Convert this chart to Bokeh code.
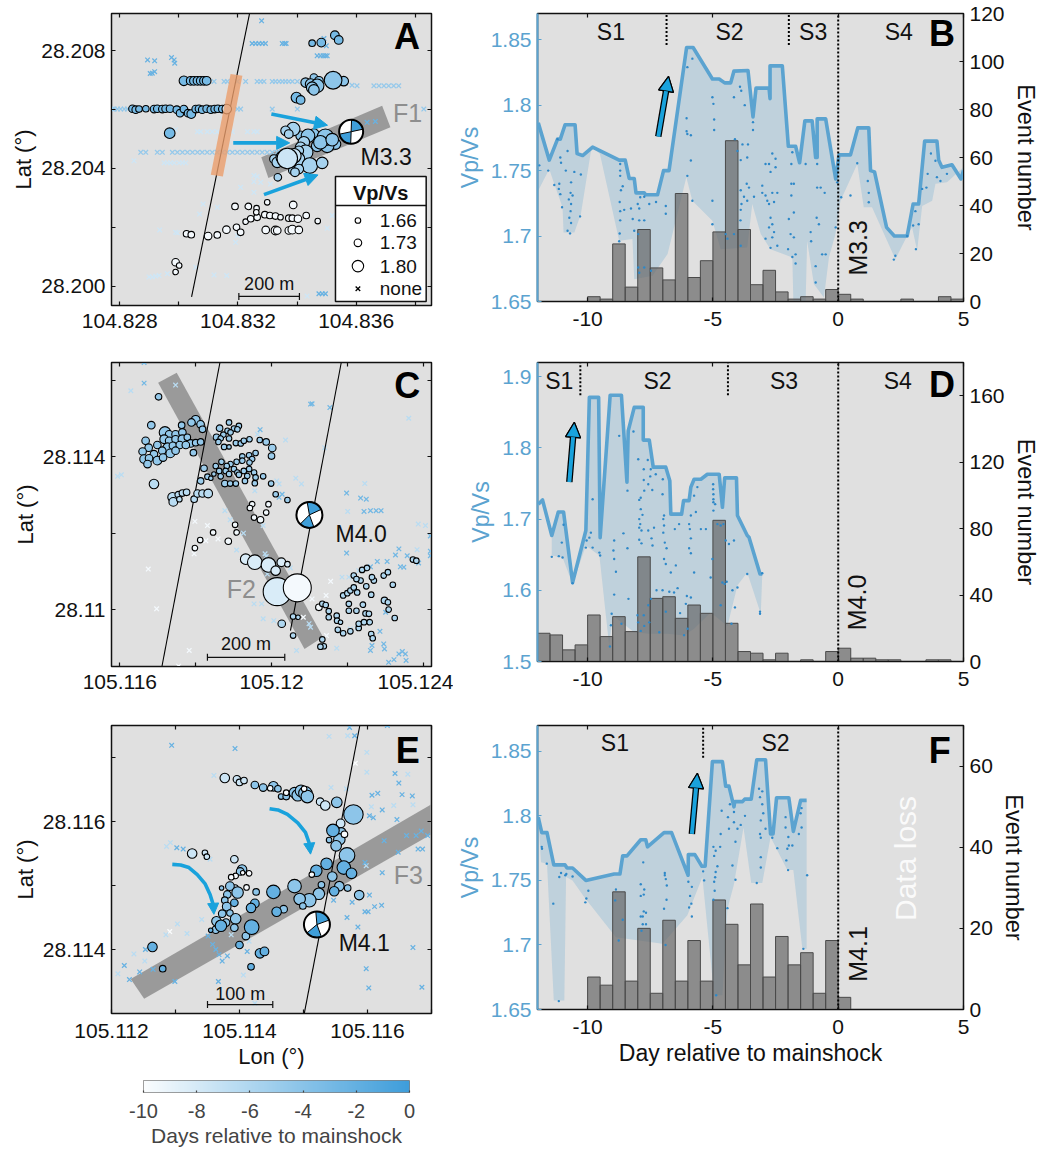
import numpy as np
from bokeh.embed import file_html
from bokeh.resources import INLINE
from bokeh.plotting import figure
from bokeh.layouts import column, row
from bokeh.core.properties import value
from bokeh.models import (Range1d, LinearAxis, FixedTicker, LinearColorMapper, Arrow, NormalHead,
                          ColumnDataSource, CustomJSTickFormatter)

FONT = "Liberation Sans"
BLUE = "#5BA3D0"
ARROW = "#19A2DC"
BAND = "#9A9A9A"
BG = "#E0E0E0"

# ---------------- Panel A (lon: 0.001 deg east of 104.828, lat: 0.001 deg north of 28.200)
a_c1_day = -3.0
a_c1_lon = [6.51,6.82,7.28,7.41,2.17,2.40,2.51,2.63,2.74,2.85,2.94,.43,.54,.65,.88,1.16,1.27,1.44,1.55,1.70,1.93,2.04,2.17,2.31,2.42,2.57,2.68,2.79,2.94,3.08,3.21,3.32,3.47,1.69,5.98,6.12]
a_c1_lat = [8.26,8.28,8.53,8.37,6.98,6.98,6.98,6.98,6.98,6.98,6.98,6.03,6.0,6.02,6.03,6.02,6.03,6.02,6.03,6.03,6.0,5.88,6.02,5.88,5.85,6.02,6.03,6.0,6.03,6.0,6.02,6.03,6.02,5.20,6.41,6.33]
a_c1_vp = [1.695,1.75,1.75,1.75,1.765,1.75,1.75,1.75,1.75,1.75,1.75,1.73,1.73,1.695,1.695,1.73,1.73,1.73,1.73,1.73,1.73,1.73,1.73,1.73,1.75,1.73,1.73,1.73,1.73,1.73,1.73,1.73,1.73,1.785,1.785,1.75]
a_c2_day = -4.2
a_c2_lon = [7.58,6.29,6.57,6.74,6.46,6.68,6.51,6.57,7.22,6.57,7.3,6.68,7.02,6.12,6.96,6.79,7.19,6.37]
a_c2_lat = [6.97,6.92,7.09,6.98,6.87,6.81,6.75,6.67,7.0,5.17,4.83,4.77,4.77,5.11,5.06,4.89,4.98,5.11]
a_c2_vp = [1.765,1.765,1.73,1.75,1.785,1.815,1.80,1.785,1.845,1.785,1.785,1.80,1.815,1.765,1.838,1.815,1.808,1.815]
a_c3_day = -5.5
a_c3_lon = [5.87,5.61,5.72,6.23,6.12,6.2,6.29,5.22,5.33,5.5,6.06,6.03,6.43,6.85,6.06,5.84,5.93,5.35]
a_c3_lat = [5.34,5.28,5.17,4.89,4.72,4.52,4.55,4.32,4.21,4.38,4.6,4.32,4.1,4.19,3.98,3.93,3.87,3.7]
a_c3_vp = [1.815,1.765,1.75,1.80,1.785,1.785,1.823,1.75,1.785,1.808,1.765,1.815,1.83,1.80,1.765,1.73,1.75,1.73]
a_c4_day = -7.5
a_c4_lon = [5.89,5.67,3.62]
a_c4_lat = [4.43,4.34,6.02]
a_c4_vp = [1.823,1.865,1.765]
a_c5_day = -9.6
a_c5_lon = [3.9,4.35,4.63,4.99,5.87,2.26,2.42,2.99,3.3,3.61,3.95,4.09,4.26,4.43,4.65,4.91,5.08,5.27,5.44,5.72,5.84,6.03,6.31,6.7,4.94,5.27,5.33,5.72,5.84,6.06,4.62,1.89,2.01,1.89]
a_c5_lat = [2.71,2.71,2.65,2.85,2.76,1.78,1.75,1.7,1.74,1.92,2.0,1.83,2.19,2.29,2.34,2.43,2.4,2.38,2.34,2.31,2.31,2.29,2.4,2.21,1.91,1.89,1.89,1.89,1.92,1.91,2.51,.81,.7,.48]
a_c5_vp = [1.695,1.695,1.66,1.66,1.73,1.695,1.695,1.73,1.695,1.73,1.695,1.695,1.66,1.695,1.695,1.695,1.695,1.695,1.66,1.695,1.695,1.73,1.695,1.66,1.73,1.75,1.73,1.73,1.75,1.73,1.66,1.73,1.66,1.66]
a_x1_day = -2.2
a_x1_lon = [4.48,4.6,4.71,4.82,4.93,5.5,5.58,5.63,4.8,6.68,6.79,6.88,6.96,7.02,6.99,6.91,.94,1.18,1.75,1.84,1.86,1.03,1.1,1.18,8.37,8.65,6.74,6.85,6.96]
a_x1_lat = [8.25,8.25,8.25,8.25,8.25,8.25,8.25,8.25,9.02,7.83,7.83,7.83,7.83,7.83,8.17,8.42,7.69,7.66,7.77,7.69,7.58,7.23,7.24,7.29,5.57,5.6,-.26,-.26,-.26]
a_x2_day = -4.6
a_x2_lon = [3.19,3.53,3.64,3.98,4.26,4.65,4.77,4.88,5.16,5.27,5.39,5.5,5.61,5.72,5.84,6.01,7.64,7.86,8.03,8.6,8.77,8.94,9.1,9.27,9.44,-.25,-.19,-.08,.03,.15,.26,.6,3.98,4.09,5.16,6.01,10.29,.71,.88,1.27,1.44,1.78,1.95,2.12,2.29,2.46,2.63,2.79,2.96,3.13,3.3,3.47,3.64,3.81,3.98,4.15,4.32,4.48,4.65,4.82,4.99,5.16,5.33,5.44,5.61]
a_x2_lat = [6.96,6.96,6.96,6.96,6.96,6.96,6.96,6.96,6.96,6.96,6.96,6.96,6.96,6.96,6.96,6.96,6.9,6.83,6.81,6.81,6.81,6.81,6.81,6.81,6.81,6.02,6.02,6.02,6.02,6.02,6.02,6.02,6.02,6.02,6.02,6.02,6.02,4.55,4.55,4.55,4.55,4.55,4.55,4.55,4.55,4.55,4.55,4.55,4.55,4.55,4.55,4.55,4.55,4.55,4.55,4.55,4.55,4.55,4.55,4.55,4.55,4.55,4.55,4.55,4.55]
a_x3_day = -7.6
a_x3_lon = [2.63,2.74,2.96,3.13,3.3,3.64,3.81,4.32,4.54,4.65,1.89,1.5,1.61,1.72,1.84,2.01,2.12,2.23,.48,4.54,4.65,4.54,4.77,5.1,4.09,2.82,2.7,3.3,4.54,3.98,3.92,1.35,1.89,1.95,2.57,3.19,3.62,.99,1.1,1.22,1.33,1.61,6.34,7.19,7.02]
a_x3_lat = [5.25,5.25,5.25,5.25,5.25,5.25,5.25,5.25,5.25,5.25,5.32,4.19,4.19,4.19,4.19,4.19,4.19,4.19,4.26,3.76,3.73,3.55,3.53,3.47,3.36,2.79,2.45,2.68,3.19,1.72,1.49,1.91,1.83,1.81,.64,.38,.36,.31,.31,.34,.36,.42,-.34,2.4,1.97]
a_fault_lon = [4.39,2.43]
a_fault_lat = [9.26,-.37]
a_band_lon = [4.79,8.88,9.16,5.03]
a_band_lat = [4.38,6.13,5.40,3.68]
a_orange_lon = [3.75,4.15,3.49,3.08]
a_orange_lat = [7.21,7.15,3.73,3.79]
legend_vp = [1.66,1.73,1.80]
legend_labels = ["1.66","1.73","1.80","none"]

# ---------------- Panel C (lon: 0.001 deg east of 105.116, lat: 0.001 deg north of 28.110)
c_c1_day = -4.5
c_c1_lon = [1.02,.83,2.0,1.89,2.13,2.18,1.19,1.63,1.3,1.47,1.65,.68,1.17,.99,.76,.6,1.3,1.47,1.65,1.78,1.87,2.0,2.13,1.26,1.4,1.58,1.74,.9,1.12,1.33,1.47,1.94,.64,.77,.99,1.14,.73]
c_c1_lat = [5.57,4.83,4.97,4.9,4.85,4.72,4.64,4.83,4.59,4.59,4.64,4.42,4.46,4.31,4.24,4.14,4.42,4.46,4.46,4.51,4.35,4.37,4.39,4.24,4.29,4.31,4.31,4.07,4.16,4.09,4.16,4.11,3.94,3.96,3.9,3.98,3.81]
c_c1_vp = [1.695,1.73,1.75,1.73,1.73,1.695,1.80,1.695,1.73,1.73,1.73,1.73,1.75,1.73,1.73,1.73,1.73,1.73,1.75,1.695,1.73,1.695,1.695,1.765,1.73,1.73,1.73,1.73,1.73,1.75,1.73,1.695,1.75,1.73,1.75,1.73,1.73]
c_c2_day = -6.5
c_c2_lon = [.9,1.39,1.54,1.65,1.76,1.41,1.57,1.96,2.05,2.18,2.33]
c_c2_lat = [3.29,2.94,3.01,3.05,3.07,2.82,2.89,2.89,3.04,3.04,3.04]
c_c2_vp = [1.765,1.765,1.695,1.695,1.695,1.75,1.66,1.695,1.73,1.73,1.75]
c_c3_day = -5.0
c_c3_lon = [2.63,2.88,3.14,3.01,2.84,2.92,2.73,2.55,2.66,2.88,3.1,2.6,2.75,2.88,3.06,3.19,3.27,3.42,3.69,3.86,4.02,4.0,3.58,3.41,3.23,3.49,3.42,3.23,3.08,2.92,2.68,2.82,2.53,2.22,2.62,2.79,3.01,3.1,3.27,3.41,3.54,2.31,2.48,2.66,2.88,3.14,3.36,3.58,3.78,2.4,2.13,2.77,2.91,3.06,3.3,3.56,3.99,4.11,4.42]
c_c3_lat = [4.75,4.9,4.81,4.74,4.68,4.64,4.58,4.51,4.48,4.48,4.72,4.39,4.26,4.26,4.36,4.35,4.42,4.46,4.44,4.39,4.23,4.02,4.1,4.04,4.01,3.94,3.85,3.9,3.87,3.81,3.87,3.76,3.76,3.7,3.63,3.63,3.68,3.59,3.63,3.68,3.59,3.48,3.55,3.49,3.55,3.53,3.5,3.46,3.49,3.44,3.37,3.3,3.3,3.3,3.37,3.31,3.3,3.02,2.87]
c_c3_vp = [1.695,1.66,1.66,1.66,1.66,1.66,1.66,1.695,1.66,1.66,1.66,1.66,1.66,1.61,1.66,1.66,1.66,1.66,1.66,1.695,1.73,1.695,1.66,1.66,1.66,1.66,1.66,1.66,1.66,1.66,1.66,1.66,1.66,1.695,1.66,1.66,1.66,1.66,1.66,1.66,1.66,1.66,1.61,1.66,1.66,1.66,1.66,1.66,1.66,1.61,1.695,1.695,1.66,1.66,1.66,1.66,1.66,1.66,1.66]
c_c4_day = -9.5
c_c4_lon = [3.92,3.49,3.43,3.86,3.54,3.71,3.04,3.08,2.46,2.12,2.86,1.98,5.25]
c_c4_lat = [2.76,2.76,2.66,2.54,2.41,2.35,2.22,2.02,2.02,1.82,1.79,1.61,.06]
c_c4_vp = [1.66,1.66,1.66,1.66,1.66,1.695,1.66,1.66,1.66,1.66,1.695,1.66,1.695]
c_c5_day = -8.2
c_c5_lon = [3.32,3.56,3.92,4.11,4.26,4.42,4.15]
c_c5_lat = [1.32,1.24,1.17,1.02,1.24,1.19,.47]
c_c5_vp = [1.785,1.823,1.823,1.765,1.75,1.66,1.92]
c_c6_day = -9.6
c_c6_lon = [4.68]
c_c6_lat = [.57]
c_c6_vp = [1.92]
c_c7_day = -6.0
c_c7_lon = [4.27,4.57,4.7,4.57,5.34,5.43,5.51,5.51,5.72,5.73,5.82,5.75,5.89,6.08,6.3,6.3,6.48,6.57,6.44,6.59,6.04,6.04,6.24,6.41,6.63,5.89,6.0,6.08,6.26,6.17,6.35,6.5,6.7,6.65,6.17,6.24,6.39,6.52,6.96,7.07,7.2,6.98,7.07,7.09,7.25,6.63,6.67,5.34,5.38,5.29,7.73,7.82]
c_c7_lat = [-.37,-.18,-.2,-.68,.15,.12,-.04,-.2,-.16,-.29,-.33,-.53,-.62,-.57,-.48,-.37,-.1,-.11,-.33,-.33,.15,-.03,-.03,.13,.39,.37,.43,.5,.45,.58,.76,.61,.76,.85,.89,.8,1.04,1.09,.89,.98,.65,.24,.19,0,-.22,-.64,-.75,-.78,-.96,-.97,1.31,1.28]
c_c7_vp = [1.73,1.66,1.61,1.66,1.66,1.66,1.66,1.66,1.66,1.66,1.61,1.66,1.66,1.66,1.66,1.66,1.66,1.66,1.66,1.66,1.66,1.66,1.66,1.66,1.66,1.66,1.66,1.66,1.66,1.66,1.66,1.66,1.66,1.66,1.66,1.66,1.66,1.66,1.66,1.66,1.66,1.695,1.66,1.66,1.66,1.66,1.66,1.66,1.66,1.66,1.66,1.66]
c_x1_day = -2.8
c_x1_lon = [.64,5.03,5.07,5.54,3.7,4.28,4.2,6.35,6.5,6.44,6.61,6.76,6.89,5.98,6.61,6.79,7.05,7.27,7.36,7.4,7.49,7.58,7.88,8.19,8.19,7.01,6.86,6.61,6.65,6.96,6.98,7.45,7.53,7.36,7.23,7.09,7.55,8.19,.64,5.98]
c_x1_lat = [6.47,5.38,5.39,5.29,4.71,3.02,2.94,2.92,2.89,2.57,2.59,2.59,2.59,3.05,1.12,1.26,1.26,1.43,1.59,1.12,1.11,1.41,1.22,1.53,1.41,-.07,-.57,-1.07,-.94,-.9,-1.03,-1.1,-1.16,-1.16,-1.31,-1.38,-1.33,1.93,5.93,1.48]
c_x2_day = -6.5
c_x2_lon = [.29,1.47,-.06,.04,3.63,4.37,5.4,4.14,4.2,4.64,4.79,3.56,6.46,6.01,7.62,7.87,8.06,2.77,2.91,3.26,3.78,3.83,3.86,3.08,3.54,3.74,3.78,4.06,3.89,4.5,4.99,5.03,5.86,6.04,6.3,7.84,6.26,6.08,5.72,4.66]
c_x2_lat = [5.73,5.88,3.49,3.53,4.59,4.44,4.24,3.37,3.29,3.44,3.29,3.11,3.3,2.57,5.01,2.24,2.2,2.59,2.35,2.0,2.2,1.46,1.39,1.56,.15,.15,-.24,-.29,.93,1.09,-.37,-.46,.85,.85,1.02,1.57,-.48,-.51,-1.01,-1.07]
c_x3_day = -9.6
c_x3_lon = [1.98,2.31,2.27,2.59,1.96,.75,.97,1.83,1.55,5.56,5.44,5.07,4.84,5.45]
c_x3_lat = [2.31,2.2,1.8,1.85,1.46,1.06,.02,-1.07,-1.48,.74,.37,.28,-.2,-.68]
c_fault1_lon = [2.64,1.11]
c_fault1_lat = [6.47,-1.49]
c_fault2_lon = [5.84,4.5]
c_fault2_lat = [6.47,-.55]
c_band_lon = [1.01,1.5,5.36,4.87]
c_band_lat = [5.94,6.2,-.72,-1.03]

# ---------------- Panel E (lon: 0.001 deg east of 105.112, lat: 0.001 deg north of 28.114)
e_c1_day = -7.5
e_c1_lon = [1.77,1.96,2.0,2.07,3.26,3.34,3.58,1.26,1.46,1.49,1.93,1.92]
e_c1_lat = [2.68,2.66,2.61,2.64,2.31,2.25,1.97,1.5,1.51,1.45,.96,1.41]
e_c1_vp = [1.765,1.73,1.695,1.695,1.73,1.765,1.75,1.765,1.66,1.66,1.695,1.73]
e_c2_day = -4.2
e_c2_lon = [2.24,2.37,2.53,2.6,2.65,2.73,2.86,2.91,2.96,3.03,3.06,3.52,3.78,3.59,3.56,3.4,3.51,3.68,3.45,3.28,3.56,3.69,3.87,3.24,3.09,2.94,2.99,2.86,2.69,2.1,2.04,2.01,1.85,1.72,2.26,1.97,1.81,1.77,1.8,1.73,1.85,1.64,1.94,1.63,1.79,1.92]
e_c2_lat = [2.57,2.53,2.55,2.51,2.39,2.39,2.45,2.41,2.48,2.44,2.39,2.3,2.11,1.83,1.72,1.71,1.62,1.47,1.14,1.01,.99,.96,.85,.87,.77,.79,.68,.99,.63,.21,1.25,1.22,.99,.96,.9,.89,.86,.77,.67,.56,.57,.44,.48,.31,.42,.34]
e_c2_vp = [1.73,1.73,1.765,1.695,1.66,1.695,1.785,1.80,1.80,1.815,1.808,1.785,1.858,1.765,1.80,1.66,1.785,1.83,1.765,1.695,1.765,1.695,1.765,1.80,1.815,1.80,1.695,1.815,1.73,1.73,1.765,1.73,1.75,1.61,1.695,1.80,1.73,1.695,1.75,1.73,1.695,1.765,1.785,1.73,1.73,1.73]
e_c3_day = -2.0
e_c3_lon = [3.46,3.36,3.63,3.75,3.2,3.48,2.53,2.58,2.19,2.0,2.32,2.39,2.18,.64,.8,2.24,2.18,1.92,1.71,1.55]
e_c3_lat = [1.86,1.34,1.28,1.19,1.23,.91,.9,.59,.35,.07,-.06,-.03,-.27,.04,-.3,.72,.65,.73,.37,.3]
e_c3_vp = [1.808,1.80,1.815,1.785,1.80,1.765,1.815,1.765,1.823,1.73,1.765,1.75,1.695,1.765,1.695,1.75,1.765,1.73,1.80,1.61]
e_c4_day = -9.8
e_c4_lon = [2.48,2.73,3.01,3.64,3.13,2.05,1.94,1.87,2.11,2.15]
e_c4_lat = [2.52,2.45,2.51,1.8,1.17,1.2,1.15,1.13,.97,1.19]
e_c4_vp = [1.66,1.66,1.66,1.695,1.66,1.61,1.66,1.66,1.66,1.66]
e_x1_day = -2.2
e_x1_lon = [.94,1.93,1.02,1.12,1.51,1.58,1.63,1.68,1.73,1.81,2.12,.53,.44,.65,.99,1.67,3.8,3.72,4.31,4.43,4.49,4.54,4.7,4.16,4.07,4.23,4.03,4.09,4.46,4.26,4.61,4.76,4.84,4.94,4.48,4.79,4.86,4.23,3.96,4.03,3.76,3.47,3.96,4.01,4.11,4.22,3.68,3.85,3.98,4.02,4.71,4.85,.2,.28]
e_x1_lat = [3.19,3.14,1.59,1.57,.21,.08,0,-.08,-.18,-.1,-.03,0,-.35,-.31,-.5,-.5,3.34,3.47,3.5,2.75,2.6,2.42,2.4,2.44,2.41,2.18,2.09,2.06,2.03,1.7,1.78,1.78,1.85,1.78,1.52,1.57,1.57,1.2,1.36,.85,.74,.77,.59,.59,.67,.69,.5,.35,-.3,-.6,.03,-.59,-.25,-.47]
e_x2_day = -6.5
e_x2_lon = [1.6,.86,.92,1.54,1.03,.85,1.18,1.41,1.87,2.15,2.06,.35,.52,.1,2.24,3.69,3.4,3.99,3.43,3.67,3.99,4.63,4.41,4.71,4.06,3.98]
e_x2_lat = [2.72,1.61,1.67,1.41,.4,.23,.25,.47,.23,.13,-.4,-.07,-.18,-.38,-.84,3.34,3.33,3.08,2.53,2.51,2.77,2.74,2.25,2.26,2.23,1.31]
e_x3_day = -10.0
e_x3_lon = [.91,3.81]
e_x3_lat = [.28,2.91]
e_fault_lon = [3.88,3.01]
e_fault_lat = [3.5,-1.01]
e_band_lon = [.30,5.0,5.0,.51]
e_band_lat = [-.46,2.27,1.8,-.77]
e_curve1_lon = [.95,1.08,1.21,1.34,1.46,1.54,1.59,1.6]
e_curve1_lat = [1.33,1.32,1.28,1.17,1.03,.86,.70,.55]
e_curve2_lon = [2.47,2.6,2.75,2.91,3.03,3.09,3.11]
e_curve2_lat = [2.2,2.18,2.11,1.98,1.83,1.66,1.49]

# ---------------- Panel B
b_day = [-11.97,-11.53,-11.2,-11.09,-10.9,-10.5,-10.42,-10.2,-9.8,-8.74,-8.5,-8.34,-8.14,-8.07,-7.74,-7.68,-7.21,-6.97,-6.75,-6.05,-5.79,-5.02,-4.75,-4.53,-4.29,-4.16,-3.6,-3.4,-3.28,-2.76,-2.72,-2.72,-2.23,-1.99,-1.7,-1.54,-1.33,-1.04,-.9,-.84,-.84,-.5,-.1,.03,.49,.78,1.22,1.29,1.45,1.93,2.24,2.75,2.99,3.21,3.45,3.94,4.01,4.14,4.54,4.9,5.0]
b_vp = [1.7865,1.758,1.774,1.774,1.785,1.785,1.763,1.7615,1.768,1.758,1.758,1.744,1.744,1.733,1.733,1.7315,1.7315,1.75,1.75,1.844,1.844,1.82,1.82,1.817,1.817,1.826,1.8265,1.791,1.813,1.813,1.805,1.83,1.83,1.7686,1.7686,1.756,1.788,1.788,1.76,1.76,1.7895,1.7895,1.7436,1.762,1.762,1.7826,1.7826,1.75,1.749,1.7066,1.7,1.7,1.7245,1.7245,1.7725,1.7725,1.758,1.7525,1.7545,1.7436,1.75]
b_low_day = [-11.97,-11.53,-11.33,-11,-10.96,-10.53,-10.27,-9.84,-9.51,-8.74,-8.21,-8.14,-7.41,-6.81,-6.06,-5.82,-5.02,-4.69,-3.63,-3.43,-3.09,-2.7,-1.83,-1.79,-1.3,-1.24,-.97,-.57,-.37,-.11,.09,.76,1.02,1.35,2.28,2.75,2.95,3.15,3.35,3.75,3.88,4.34,5.0]
b_low_vp = [1.7347,1.7513,1.7398,1.722,1.7028,1.7028,1.7168,1.768,1.7628,1.6964,1.6977,1.667,1.6696,1.6862,1.7449,1.727,1.7117,1.69,1.6913,1.7245,1.7015,1.69,1.6837,1.65,1.65,1.6964,1.6633,1.653,1.6837,1.7015,1.727,1.755,1.722,1.722,1.6824,1.7,1.7066,1.689,1.723,1.727,1.74,1.741,1.7526]
b_dot_day = [-11.2,-11.09,-11.06,-10.8,-11.13,-11.15,-11.09,-10.87,-10.53,-10.66,-10.68,-10.6,-10.75,-10.66,-10.68,-10.73,-10.66,-10.8,-10.7,-10.3,-11.02,-10.27,-11.33,-11.57,-11.93,-8.7,-8.7,-8.7,-8.67,-8.6,-8.72,-8.7,-8.54,-8.7,-8.72,-8.74,-8.27,-8,-7.94,-8.2,-7.94,-8.14,-7.98,-7.98,-7.74,-7.94,-7.47,-7.74,-7.54,-7.27,-6.88,-6.88,-7.74,-7.9,-5.82,-6.02,-6.05,-6.05,-6.02,-5.88,-5.88,-6.02,-5.82,-5.02,-4.98,-4.95,-4.95,-5.02,-5.02,-4.16,-3.92,-3.87,-3.73,-3.4,-3.4,-4.12,-3.82,-3.6,-4.02,-3.89,-3.63,-3.65,-3.89,-3.56,-3.76,-3.86,-3.63,-3.36,-3.89,-4.49,-4.42,-4.16,-3.89,-3.9,-2.63,-2.9,-2.76,-2.5,-2.7,-2.5,-3.03,-3.03,-2.9,-2.83,-2.63,-2.43,-2.76,-2.56,-2.7,-2.63,-2.76,-2.56,-2.63,-2.9,-2.7,-2.43,-1.83,-1.87,-1.3,-1.87,-1.77,-1.87,-1.77,-1.97,-1.9,-1.77,-2,-1.7,-1.83,-1.7,-1.1,-1.08,-.86,-.77,-.9,-.9,-.64,-.5,-.84,-.84,-.7,-.54,-.1,-.04,.12,.49,.76,1.18,1.22,1.22,2.28,2.22,2.75,2.99,3.21,3.08,3.1,3.57,3.7,3.88,3.94,4.08,4.34,3.35,3.52]
b_dot_vp = [1.774,1.76,1.756,1.765,1.74,1.736,1.732,1.75,1.749,1.741,1.733,1.731,1.728,1.7245,1.719,1.714,1.71,1.704,1.702,1.715,1.722,1.747,1.739,1.75,1.754,1.755,1.75,1.746,1.735,1.738,1.726,1.719,1.72,1.712,1.702,1.696,1.721,1.7245,1.721,1.713,1.712,1.704,1.7015,1.676,1.676,1.672,1.6735,1.73,1.7245,1.726,1.723,1.717,1.712,1.7296,1.8355,1.829,1.79,1.78,1.778,1.777,1.7577,1.746,1.727,1.806,1.801,1.789,1.781,1.727,1.709,1.806,1.814,1.811,1.8,1.787,1.781,1.774,1.77,1.77,1.765,1.758,1.76,1.74,1.735,1.737,1.73,1.7245,1.727,1.73,1.72,1.7015,1.698,1.7015,1.6926,1.712,1.763,1.755,1.755,1.759,1.749,1.7525,1.7385,1.733,1.731,1.727,1.733,1.733,1.7245,1.726,1.714,1.709,1.7066,1.703,1.699,1.698,1.691,1.6926,1.764,1.755,1.755,1.74,1.74,1.731,1.718,1.713,1.7015,1.699,1.69,1.686,1.684,1.679,1.703,1.696,1.714,1.709,1.677,1.6645,1.686,1.686,1.755,1.737,1.737,1.733,1.7066,1.741,1.7296,1.731,1.7556,1.742,1.733,1.7258,1.685,1.682,1.7,1.708,1.709,1.719,1.69,1.7475,1.763,1.7575,1.745,1.742,1.7475,1.736,1.737]
bin_start = list(np.arange(-12, 5, 0.5))
b_counts = [0,0,0,0, 2,1,24,6,30,14,9,45,10,17,29,67,30,7,13,4,1,2,1,5, 3,1,0,0,0,1,0,0,2,1]

# ---------------- Panel D
d_day = [-11.97,-11.8,-11.43,-11.17,-10.96,-10.6,-10.07,-9.93,-9.56,-9.5,-9.1,-8.65,-8.43,-8.38,-8.14,-7.78,-7.78,-7.54,-7.38,-6.88,-6.72,-6.68,-6.25,-6.17,-5.95,-5.88,-5.75,-5.48,-5.22,-4.75,-4.62,-4.53,-4.06,-4.02,-3.63,-3.56,-3.12,-3.03]
d_vp = [1.721,1.727,1.677,1.71,1.71,1.611,1.684,1.871,1.871,1.674,1.874,1.874,1.752,1.824,1.857,1.857,1.811,1.811,1.773,1.773,1.754,1.707,1.707,1.726,1.726,1.745,1.756,1.756,1.763,1.763,1.7166,1.758,1.758,1.705,1.677,1.6745,1.623,1.623]
d_low_day = [-11.97,-11.8,-11.43,-11.43,-11,-10.6,-10.07,-9.53,-9.14,-9,-8.14,-7.54,-6.81,-6.15,-5.75,-5.09,-4.42,-4.02,-3.63,-3.09,-3.03]
d_low_vp = [1.721,1.727,1.677,1.649,1.646,1.609,1.663,1.649,1.522,1.5645,1.541,1.539,1.539,1.5365,1.546,1.569,1.55,1.607,1.625,1.567,1.623]
d_dot_day = [-8.74,-8.17,-9.8,-8.41,-7.98,-7.6,-7.76,-7.48,-7.28,-7.5,-7.76,-7.58,-7.74,-7.88,-7.94,-7.42,-7,-7.01,-7.88,-7.81,-7.94,-7.9,-7.94,-7.85,-7.58,-7.35,-6.95,-6.98,-6.95,-6.98,-6.92,-6.85,-7.94,-7.85,-7.45,-7.41,-8.57,-8.94,-8.97,-8.94,-8.41,-8.87,-8.94,-8.37,-9.04,-9.07,-8.65,-9.11,-9.87,-9.93,-10.04,-9.8,-10.07,-9.53,-9.5,-11,-11.43,-11.15,-11.03,-10.96,-10.6,-5.95,-5.92,-5.88,-5.95,-5.88,-6.35,-6.52,-5.62,-5.75,-5.88,-5.68,-5.48,-5.28,-4.99,-4.99,-4.98,-4.98,-4.98,-4.91,-4.98,-4.82,-4.69,-4.58,-5.02,-4.49,-4.16,-4.36,-5.09,-4.53,-4.45,-4.22,-4.02,-4.12,-4.26,-3.63,-3.12,-3.12,-3.03,-5.75,-6.48,-6.68,-6.95,-6.88,-7.25,-7.01,-6.74,-6.55,-6.41,-6.04,-5.88,-6.08,-6.88,-6.31,-7.47,-7.58,-7.76,-8.01,-7.98,-7.74,-7.54,-7.88,-7.14,-6.15,-6.01,-4.69,-4.62]
d_dot_vp = [1.817,1.823,1.728,1.74,1.784,1.783,1.77,1.77,1.763,1.76,1.755,1.749,1.74,1.73,1.727,1.741,1.756,1.735,1.714,1.706,1.7,1.693,1.688,1.684,1.684,1.688,1.705,1.7,1.691,1.681,1.667,1.659,1.671,1.666,1.673,1.663,1.68,1.67,1.656,1.644,1.659,1.626,1.594,1.588,1.567,1.551,1.553,1.521,1.681,1.674,1.67,1.66,1.66,1.653,1.649,1.646,1.647,1.648,1.667,1.692,1.61,1.693,1.686,1.673,1.659,1.652,1.693,1.686,1.745,1.733,1.705,1.71,1.686,1.686,1.749,1.742,1.735,1.728,1.7236,1.721,1.712,1.693,1.691,1.693,1.644,1.67,1.67,1.665,1.618,1.609,1.612,1.6,1.604,1.576,1.553,1.623,1.57,1.567,1.624,1.625,1.635,1.625,1.644,1.637,1.6,1.6,1.598,1.597,1.603,1.592,1.59,1.581,1.57,1.568,1.588,1.579,1.565,1.565,1.555,1.55,1.555,1.543,1.541,1.537,1.546,1.579,1.611]
d_counts = [17,16,7,10,28,15,27,18,63,38,39,26,34,29,85,23,6,5,1,5,0,1,0,6,8,2,2,1,1,0,0,1,1,0]

# ---------------- Panel F
f_day = [-11.97,-11.83,-11.62,-11.35,-10.9,-10.82,-10.6,-10.07,-8.94,-8.71,-8.6,-8.43,-7.88,-7.68,-7.61,-6.95,-6.65,-5.99,-5.98,-5.72,-5.44,-5.31,-5.02,-4.62,-4.49,-4.36,-4.16,-4.13,-3.82,-3.73,-3.47,-3.25,-2.9,-2.7,-2.6,-2.46,-1.97,-1.79,-1.5,-1.26]
f_vp = [1.799,1.787,1.787,1.762,1.762,1.7596,1.7596,1.75,1.755,1.755,1.769,1.769,1.7815,1.7815,1.776,1.787,1.787,1.754,1.77,1.77,1.761,1.761,1.842,1.842,1.823,1.823,1.807,1.811,1.811,1.813,1.813,1.8435,1.8435,1.786,1.786,1.814,1.814,1.788,1.812,1.812]
f_low_day = [-11.97,-11.86,-11.62,-11.35,-10.93,-10.86,-10.6,-10.13,-8.87,-7.01,-6.02,-5.42,-4.95,-4.62,-4.42,-4.16,-3.78,-3.47,-3.03,-2.7,-2.03,-1.79,-1.43,-1.26]
f_low_vp = [1.799,1.764,1.763,1.657,1.657,1.7526,1.75,1.737,1.706,1.701,1.723,1.7526,1.661,1.661,1.728,1.747,1.791,1.748,1.748,1.7836,1.758,1.758,1.697,1.697]
f_dot_day = [-11.83,-11.82,-11.63,-11.37,-11.15,-11.13,-11.06,-10.89,-10.85,-10.6,-9.97,-10.05,-10.09,-8.87,-8.9,-8.6,-8.76,-7.78,-7.88,-7.74,-7.76,-7.88,-7.76,-7.67,-7.88,-7.8,-7.8,-7.67,-7.85,-6.92,-6.92,-6.88,-6.84,-6.85,-6.95,-6.89,-5.98,-5.84,-5.91,-5.95,-5.86,-5.84,-5.39,-5.35,-4.98,-4.89,-4.71,-4.95,-4.82,-4.89,-4.91,-4.95,-4.93,-4.98,-4.87,-4.42,-4.69,-4.65,-4.4,-4.32,-4.16,-4.36,-4.02,-3.89,-3.72,-4.16,-4.1,-4.22,-4.1,-3.25,-3.16,-3.03,-3.12,-3.03,-2.99,-3.09,-2.9,-3.12,-3.09,-3.09,-3.09,-2.63,-2.43,-2.1,-2.1,-1.99,-1.97,-1.83,-2.03,-2.07,-2,-1.57,-1.46,-1.5,-1.46,-1.24,-1.39]
f_dot_vp = [1.776,1.7745,1.763,1.732,1.6565,1.7526,1.7557,1.754,1.755,1.753,1.742,1.736,1.733,1.743,1.7345,1.7195,1.7035,1.764,1.747,1.743,1.739,1.738,1.726,1.725,1.722,1.722,1.716,1.716,1.711,1.7557,1.754,1.751,1.746,1.735,1.728,1.7,1.749,1.745,1.738,1.729,1.732,1.722,1.757,1.75,1.776,1.773,1.776,1.769,1.761,1.7565,1.7525,1.749,1.742,1.735,1.661,1.7285,1.786,1.804,1.799,1.809,1.795,1.79,1.79,1.793,1.8,1.803,1.78,1.7616,1.7505,1.748,1.821,1.819,1.8145,1.809,1.802,1.7965,1.79,1.786,1.783,1.768,1.76,1.783,1.775,1.799,1.791,1.7836,1.777,1.777,1.7745,1.7655,1.758,1.786,1.791,1.802,1.806,1.754,1.697]
f_counts = [0,0,0,0,8,6,29,7,20,4,22,7,17,7,27,21,11,26,8,18,11,14,4,17,3,0,0,0,0,0,0,0,0,0]

# size of a map circle as a function of Vp/Vs, from the legend sizes
VP_KEYS = [1.60,1.66,1.73,1.80,1.92]
VP_DIAM = [4.3,5.6,7.6,11.5,28]

pal = ["#%02X%02X%02X" % tuple(int(round(255 + (c - 255) * t)) for c in (62,157,218)) for t in np.linspace(0.02,1,256)]
mapper = LinearColorMapper(palette=pal, low=-10, high=0)
INK = "#111111"
empty = CustomJSTickFormatter(code="return ''")

def make_fig(xr, yr, w, h, l, r, t, b):
    p = figure(x_range=xr, y_range=yr, frame_width=w, frame_height=h, min_border_left=l, min_border_right=r,
               min_border_top=t, min_border_bottom=b, output_backend="svg", toolbar_location=None,
               background_fill_color=BG, border_fill_color="white", outline_line_color=INK, outline_line_width=1.5)
    p.grid.visible = False
    return p

def style_axis(ax, ticks, minor=None, labels=None, color=INK, standoff=6):
    ax.ticker = FixedTicker(ticks=ticks, minor_ticks=minor or [])
    ax.major_tick_in = 4; ax.major_tick_out = 0
    ax.minor_tick_in = 4; ax.minor_tick_out = 0
    ax.major_tick_line_color = color; ax.minor_tick_line_color = color
    ax.major_tick_line_width = 1.2; ax.minor_tick_line_width = 1.2
    ax.major_label_text_color = color
    ax.major_label_text_font = FONT
    ax.major_label_text_font_size = "21px"
    ax.axis_line_color = color
    ax.major_label_standoff = standoff
    if labels:
        ax.major_label_overrides = labels

def mirror(p, side, ticks, minor=None):
    ax = LinearAxis()
    style_axis(ax, ticks, minor)
    ax.formatter = empty
    ax.major_label_standoff = 0
    ax.major_label_text_font_size = "1px"
    p.add_layout(ax, side)

def axis_label(ax, text, size, standoff, color=INK):
    ax.axis_label = text
    ax.axis_label_text_font = FONT
    ax.axis_label_text_font_style = "normal"
    ax.axis_label_text_font_size = size
    ax.axis_label_text_color = color
    ax.axis_label_standoff = standoff

def put(p, x, y, s, size="24px", color=INK, align="left", base="middle", bold=False, angle=0, alpha=1.0):
    p.text(x=[x], y=[y], text=[s], text_font=value(FONT), text_font_size=size, text_color=color, text_align=align,
           text_baseline=base, text_font_style="bold" if bold else "normal", angle=angle, text_alpha=alpha)

def m2d(origin, vals):
    return [round(origin + v * 0.001, 6) for v in vals]

def draw_circles(p, lon0, lat0, groups):
    for day, lon, lat, vp in groups:
        n = min(len(lon), len(lat), len(vp))
        src = ColumnDataSource(dict(x=m2d(lon0, lon[:n]), y=m2d(lat0, lat[:n]),
                                    s=np.interp(vp[:n], VP_KEYS, VP_DIAM), d=[day] * n))
        p.scatter("x", "y", source=src, size="s", marker="circle", line_color="black", line_width=1.1,
                  fill_color={"field": "d", "transform": mapper})

def draw_crosses(p, lon0, lat0, groups):
    for day, lon, lat in groups:
        n = min(len(lon), len(lat))
        src = ColumnDataSource(dict(x=m2d(lon0, lon[:n]), y=m2d(lat0, lat[:n]), d=[day] * n))
        p.scatter("x", "y", source=src, size=6.5, marker="x", line_width=1.25,
                  line_color={"field": "d", "transform": mapper})

def draw_ball(p, x, y, size, a1, a2):
    p.scatter([x], [y], size=size, marker="circle", fill_color="white", line_color=None)
    for s, e in (a1, a2):
        p.wedge(x=[x], y=[y], radius=size / 2, radius_units="screen", start_angle=np.deg2rad(s), end_angle=np.deg2rad(e),
                fill_color="#3F9FDA", line_color="black", line_width=1)
    p.scatter([x], [y], size=size, marker="circle", fill_color=None, line_color="black", line_width=2)

def scale_bar(p, xs, y, s, ytext):
    p.line(xs, [y, y], line_color=INK, line_width=1.2)
    p.scatter(xs, [y, y], marker="dash", angle=np.pi / 2, size=7, line_color=INK, line_width=1.2)
    put(p, sum(xs) / 2, ytext, s, size="18px", align="center")

def blue_arrow(p, x0, y0, x1, y1, size=13):
    head = NormalHead(size=size, fill_color=ARROW, line_color=ARROW, line_width=1)
    p.add_layout(Arrow(end=head, x_start=x0, y_start=y0, x_end=x1, y_end=y1, line_color=ARROW, line_width=3.6))

def up_arrow(p, x0, y0, x1, y1):
    head0 = NormalHead(size=15, fill_color=ARROW, line_color="black", line_width=1.2)
    p.add_layout(Arrow(end=head0, x_start=x0, y_start=y0, x_end=x1, y_end=y1, line_color="black", line_width=6.5))
    head1 = NormalHead(size=15, fill_color=ARROW, line_color="black", line_width=1.2)
    p.add_layout(Arrow(end=head1, x_start=x0, y_start=y0, x_end=x1, y_end=y1, line_color=ARROW, line_width=4))

W_M, W_T = 320, 426
# ======= A
LON_A, LAT_A = 104.828, 28.2
A = make_fig(Range1d(104.82772, 104.83855), Range1d(28.19934, 28.20927), W_M, 292, 111, 22, 11, 37)
tx = [104.828,104.832,104.836]; mx = [104.83,104.834,104.838]
ty = [28.2,28.204,28.208]; my = [28.202,28.206]
style_axis(A.xaxis[0], tx, mx, {104.828:"104.828",104.832:"104.832",104.836:"104.836"}, standoff=8)
style_axis(A.yaxis[0], ty, my, {28.2:"28.200",28.204:"28.204",28.208:"28.208"})
axis_label(A.yaxis[0], "Lat (°)", "22px", 2)
mirror(A, "above", tx, mx); mirror(A, "right", ty, my)
A.patch(m2d(LON_A, a_band_lon), m2d(LAT_A, a_band_lat), fill_color=BAND, line_color=None)
draw_crosses(A, LON_A, LAT_A, [(a_x3_day,a_x3_lon,a_x3_lat),(a_x2_day,a_x2_lon,a_x2_lat),(a_x1_day,a_x1_lon,a_x1_lat)])
A.line(m2d(LON_A, a_fault_lon), m2d(LAT_A, a_fault_lat), line_color="black", line_width=1.1)
draw_circles(A, LON_A, LAT_A, [(a_c1_day,a_c1_lon,a_c1_lat,a_c1_vp),(a_c5_day,a_c5_lon,a_c5_lat,a_c5_vp),(a_c2_day,a_c2_lon,a_c2_lat,a_c2_vp),(a_c3_day,a_c3_lon,a_c3_lat,a_c3_vp),(a_c4_day,a_c4_lon,a_c4_lat,a_c4_vp)])
A.patch(m2d(LON_A, a_orange_lon), m2d(LAT_A, a_orange_lat), fill_color="#EB9E6B", fill_alpha=0.8, line_color=None)
draw_ball(A, LON_A + .00783, LAT_A + .00525, 24, (12,88), (192,268))
blue_arrow(A, LON_A+.00513, LAT_A+.00585, LON_A+.00703, LAT_A+.00547)
blue_arrow(A, LON_A+.00384, LAT_A+.00487, LON_A+.00575, LAT_A+.00487)
blue_arrow(A, LON_A+.00488, LAT_A+.00311, LON_A+.00671, LAT_A+.00378)
put(A, LON_A+.00815, LAT_A+.00438, "M3.3", "23px")
put(A, LON_A+.00925, LAT_A+.00588, "F1", "25px", color="#8E8E8E")
put(A, LON_A+.00972, LAT_A+.0085, "A", "36px", align="center", bold=True, color="black")
scale_bar(A, m2d(LON_A, [4.03,6.08]), LAT_A-.00035, "200 m", LAT_A+.00006)
# legend box
A.quad(left=[LON_A+.0073], right=[LON_A+.01037], top=[LAT_A+.00373], bottom=[LAT_A-.00052], fill_color="white", line_color=INK, line_width=1.5)
A.line(m2d(LON_A,[7.3,10.37]), m2d(LAT_A,[2.74,2.74]), line_color=INK, line_width=1.5)
put(A, LON_A+.00883, LAT_A+.00317, "Vp/Vs", "20px", align="center", bold=True)
lg_y = m2d(LAT_A, [2.23,1.47,.68])
A.scatter([LON_A+.00806]*3, lg_y, size=np.interp(legend_vp, VP_KEYS, VP_DIAM), marker="circle", fill_color="white", line_color="black", line_width=1.1)
A.scatter([LON_A+.00806], [LAT_A-.00009], size=6.5, marker="x", line_color="black", line_width=1.3)
for s, y in zip(legend_labels, lg_y + [LAT_A-.00009]):
    put(A, LON_A+.0088, y, s, "19px")

# ======= B
B = make_fig(Range1d(-12, 5), Range1d(1.65, 1.87), W_T, 288, 84, 72, 13, 39)

def series_panel(p, ev_max, day, vp, low_day, low_vp, dot_day, dot_vp, counts, vp_ticks, vp_labels, ev_ticks):
    p.extra_y_ranges = {"ev": Range1d(0, ev_max)}
    xt = [-10,-5,0,5]
    style_axis(p.xaxis[0], xt, None, {-10:"-10",-5:"-5",0:"0",5:"5"}, standoff=10)
    style_axis(p.yaxis[0], vp_ticks, None, vp_labels, color=BLUE)
    p.yaxis[0].axis_line_width = 2
    rax = LinearAxis(y_range_name="ev")
    style_axis(rax, ev_ticks)
    p.add_layout(rax, "right")
    axis_label(rax, "Event number", "23.5px", 5)
    axis_label(p.yaxis[0], "Vp/Vs", "23px", 5, color=BLUE)
    mirror(p, "above", xt)
    p.patch(list(day) + list(low_day)[::-1], list(vp) + list(low_vp)[::-1], fill_color=BLUE, fill_alpha=0.25, line_color=None)
    keep = [(s + .25, c) for s, c in zip(bin_start, counts) if c > 0]
    p.vbar(x=[k[0] for k in keep], top=[k[1] for k in keep], width=0.5, bottom=0, y_range_name="ev",
           fill_color="#5F5F5F", fill_alpha=0.65, line_color="#4A4A4A", line_width=1)
    p.line(day, vp, line_color=BLUE, line_width=3.6, line_join="round")
    p.scatter(dot_day, dot_vp, size=2.4, marker="circle", fill_color="#2E88C8", line_color=None)

def dotted(p, x, y0, y1):
    p.line([x, x], [y0, y1], line_color="black", line_width=2, line_dash="2 2")

series_panel(B, 120, b_day, b_vp, b_low_day, b_low_vp, b_dot_day, b_dot_vp, b_counts,
             [1.65,1.7,1.75,1.8,1.85], {1.65:"1.65",1.7:"1.7",1.75:"1.75",1.8:"1.8",1.85:"1.85"}, [0,20,40,60,80,100,120])
dotted(B, 0, 1.65, 1.87); dotted(B, -6.85, 1.846, 1.87); dotted(B, -1.97, 1.846, 1.87)
for s, x in zip(["S1","S2","S3","S4"], [-9.07,-4.34,-1.0,2.42]):
    put(B, x, 1.856, s, "23px", align="center")
put(B, 4.14, 1.8546, "B", "36px", align="center", bold=True, color="black")
put(B, .78, 1.691, "M3.3", "25px", align="center", angle=np.pi / 2)
up_arrow(B, -7.18, 1.776, -6.77, 1.822)

# ======= C
LON_C, LAT_C = 105.116, 28.11
C = make_fig(Range1d(105.11578, 105.12422), Range1d(28.10851, 28.11647), W_M, 304, 111, 22, 20, 36)
tx = [105.116,105.12,105.124]; mx = [105.118,105.122]
ty = [28.11,28.114]; my = [28.112,28.116]
style_axis(C.xaxis[0], tx, mx, {105.116:"105.116",105.12:"105.12",105.124:"105.124"}, standoff=8)
style_axis(C.yaxis[0], ty, my, {28.11:"28.11",28.114:"28.114"})
axis_label(C.yaxis[0], "Lat (°)", "22px", 2)
mirror(C, "above", tx, mx); mirror(C, "right", ty, my)
C.patch(m2d(LON_C, c_band_lon), m2d(LAT_C, c_band_lat), fill_color=BAND, line_color=None)
draw_crosses(C, LON_C, LAT_C, [(c_x3_day,c_x3_lon,c_x3_lat),(c_x2_day,c_x2_lon,c_x2_lat),(c_x1_day,c_x1_lon,c_x1_lat)])
C.line(m2d(LON_C, c_fault1_lon), m2d(LAT_C, c_fault1_lat), line_color="black", line_width=1.1)
C.line(m2d(LON_C, c_fault2_lon), m2d(LAT_C, c_fault2_lat), line_color="black", line_width=1.1)
draw_circles(C, LON_C, LAT_C, [(c_c1_day,c_c1_lon,c_c1_lat,c_c1_vp),(c_c2_day,c_c2_lon,c_c2_lat,c_c2_vp),(c_c3_day,c_c3_lon,c_c3_lat,c_c3_vp),(c_c4_day,c_c4_lon,c_c4_lat,c_c4_vp),(c_c7_day,c_c7_lon,c_c7_lat,c_c7_vp),(c_c5_day,c_c5_lon,c_c5_lat,c_c5_vp),(c_c6_day,c_c6_lon,c_c6_lat,c_c6_vp)])
draw_ball(C, LON_C+.00500, LAT_C+.00248, 26, (25,100), (225,290))
put(C, LON_C+.00569, LAT_C+.00198, "M4.0", "23px")
put(C, LON_C+.00282, LAT_C+.00054, "F2", "25px", color="#8E8E8E")
put(C, LON_C+.00758, LAT_C+.00586, "C", "36px", align="center", bold=True, color="black")
scale_bar(C, m2d(LON_C, [2.31,4.35]), LAT_C-.00125, "200 m", LAT_C-.0009)

# ======= D
D = make_fig(Range1d(-12, 5), Range1d(1.5, 1.92), W_T, 299, 84, 72, 22, 39)
series_panel(D, 180, d_day, d_vp, d_low_day, d_low_vp, d_dot_day, d_dot_vp, d_counts,
             [1.5,1.6,1.7,1.8,1.9], {1.5:"1.5",1.6:"1.6",1.7:"1.7",1.8:"1.8",1.9:"1.9"}, [0,40,80,120,160])
dotted(D, 0, 1.5, 1.92); dotted(D, -10.29, 1.874, 1.92); dotted(D, -4.4, 1.874, 1.92)
for s, x in zip(["S1","S2","S3","S4"], [-11.13,-7.21,-2.16,2.38]):
    put(D, x, 1.894, s, "23px", align="center")
put(D, 4.14, 1.889, "D", "36px", align="center", bold=True, color="black")
put(D, .76, 1.583, "M4.0", "25px", align="center", angle=np.pi / 2)
up_arrow(D, -10.73, 1.752, -10.53, 1.836)

# ======= E
LON_E, LAT_E = 105.112, 28.114
E = make_fig(Range1d(105.112, 105.117), Range1d(28.113, 28.1175), W_M, 288, 111, 22, 23, 67)
tx = [105.112,105.114,105.116]; mx = [105.113,105.115,105.117]
ty = [28.114,28.116]; my = [28.113,28.115,28.117]
style_axis(E.xaxis[0], tx, mx, {105.112:"105.112",105.114:"105.114",105.116:"105.116"}, standoff=10)
style_axis(E.yaxis[0], ty, my, {28.114:"28.114",28.116:"28.116"})
axis_label(E.yaxis[0], "Lat (°)", "22px", 2)
axis_label(E.xaxis[0], "Lon (°)", "22px", 3)
mirror(E, "above", tx, mx); mirror(E, "right", ty, my)
E.patch(m2d(LON_E, e_band_lon), m2d(LAT_E, e_band_lat), fill_color=BAND, line_color=None)
draw_crosses(E, LON_E, LAT_E, [(e_x3_day,e_x3_lon,e_x3_lat),(e_x2_day,e_x2_lon,e_x2_lat),(e_x1_day,e_x1_lon,e_x1_lat)])
E.line(m2d(LON_E, e_fault_lon), m2d(LAT_E, e_fault_lat), line_color="black", line_width=1.1)
draw_circles(E, LON_E, LAT_E, [(e_c1_day,e_c1_lon,e_c1_lat,e_c1_vp),(e_c2_day,e_c2_lon,e_c2_lat,e_c2_vp),(e_c3_day,e_c3_lon,e_c3_lat,e_c3_vp),(e_c4_day,e_c4_lon,e_c4_lat,e_c4_vp)])
for cx, cy in ((e_curve1_lon, e_curve1_lat), (e_curve2_lon, e_curve2_lat)):
    E.line(m2d(LON_E, cx[:-1]), m2d(LAT_E, cy[:-1]), line_color=ARROW, line_width=3.6, line_join="round")
    blue_arrow(E, LON_E + cx[-2]*.001, LAT_E + cy[-2]*.001, LON_E + cx[-1]*.001, LAT_E + cy[-1]*.001, size=11)
draw_ball(E, LON_E+.00321, LAT_E+.00039, 26, (20,95), (220,290))
put(E, LON_E+.00355, LAT_E+.0001, "M4.1", "23px")
put(E, LON_E+.00441, LAT_E+.00116, "F3", "25px", color="#8E8E8E")
put(E, LON_E+.00463, LAT_E+.00311, "E", "36px", align="center", bold=True, color="black")
scale_bar(E, m2d(LON_E, [1.5,2.52]), LAT_E-.00086, "100 m", LAT_E-.00069)

# ======= F
F = make_fig(Range1d(-12, 5), Range1d(1.65, 1.87), W_T, 284, 84, 72, 25, 69)
f_below = F.xaxis[0]
series_panel(F, 70, f_day, f_vp, f_low_day, f_low_vp, f_dot_day, f_dot_vp, f_counts,
             [1.65,1.7,1.75,1.8,1.85], {1.65:"1.65",1.7:"1.7",1.75:"1.75",1.8:"1.8",1.85:"1.85"}, [0,20,40,60])
axis_label(f_below, "Day relative to mainshock", "23px", 3)
dotted(F, 0, 1.65, 1.87); dotted(F, -5.39, 1.845, 1.87)
for s, x in zip(["S1","S2"], [-8.91,-2.5]):
    put(F, x, 1.8567, s, "23px", align="center")
put(F, 4.05, 1.8505, "F", "36px", align="center", bold=True, color="black")
put(F, .78, 1.693, "M4.1", "25px", align="center", angle=np.pi / 2)
put(F, 2.68, 1.767, "Data loss", "30px", color="white", align="center", angle=np.pi / 2, alpha=0.85)
up_arrow(F, -5.84, 1.786, -5.62, 1.833)

# ======= colour bar
CB = figure(x_range=Range1d(-10, 0), y_range=Range1d(0, 1), frame_width=266, frame_height=12, min_border_left=143,
            min_border_right=10, min_border_top=2, min_border_bottom=58, output_backend="svg", toolbar_location=None,
            outline_line_color="#808080", outline_line_width=1)
CB.grid.visible = False
CB.yaxis.visible = False
CB.image(image=[np.linspace(-10, 0, 256)[None, :]], x=-10, y=0, dw=10, dh=1, color_mapper=mapper)
style_axis(CB.xaxis[0], [-10,-8,-6,-4,-2,0], None, {-10:"-10",-8:"-8",-6:"-6",-4:"-4",-2:"-2",0:"0"}, color="#444444", standoff=11)
CB.xaxis[0].major_label_text_font_size = "20px"
CB.xaxis[0].major_tick_in = 2
CB.xaxis[0].axis_line_color = None
axis_label(CB.xaxis[0], "Days relative to mainshock", "21px", 3, color="#444444")

page = column(row(A, B, spacing=0), row(C, D, spacing=0), row(E, F, spacing=0), CB, spacing=0)
open("out.html", "w").write(file_html(page, INLINE))
